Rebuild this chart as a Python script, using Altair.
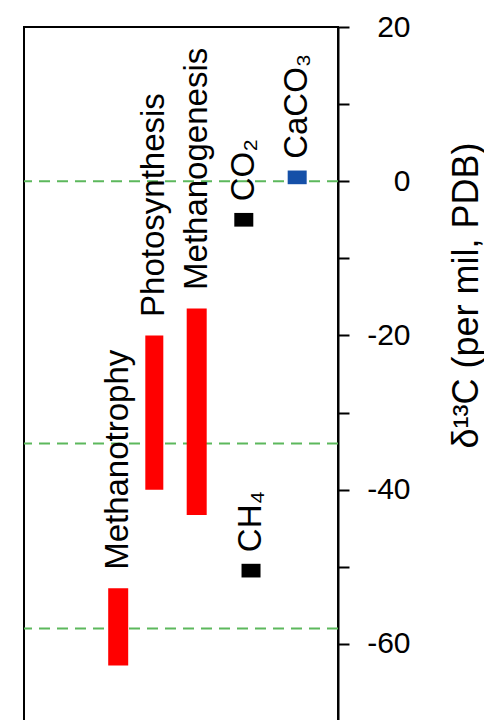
import altair as alt
import pandas as pd

# ---- data ----
names = ["Methanotrophy", "Photosynthesis", "Methanogenesis", "CO₂", "CH₄", "CaCO₃"]
kinds = ["range", "range", "range", "point", "point", "point"]
x_pos = [3.0, 4.15, 5.5, 7.0, 7.23, 8.7]
upper = [-52.8, -20.0, -16.5, -5.0, -50.5, 0.5]
lower = [-62.8, -40.0, -43.3, -5.0, -50.5, 0.5]
ref_lines = [0, -34, -58]
y_ticks = [20, 10, 0, -10, -20, -30, -40, -50, -60, -70]

df = pd.DataFrame({"name": names, "kind": kinds, "x": x_pos,
                   "upper": upper, "lower": lower})
lines_df = pd.DataFrame({"v": ref_lines})

FONT = "Liberation Sans"
yscale = alt.Scale(domain=[-70, 20], nice=False, zero=False)
xscale = alt.Scale(domain=[0, 10], nice=False, zero=False)

yaxis = alt.Axis(
    orient="right", values=y_ticks, grid=False,
    domainColor="black", domainWidth=2,
    tickColor="black", tickWidth=2, tickSize=11,
    labelExpr="datum.value % 20 == 0 ? '' + datum.value : ''",
    labelAlign="right", labelBaseline="middle", labelPadding=61,
    labelFontSize=30, labelFont=FONT, labelColor="black",
    labelOverlap=False, labelFlush=False,
    title="δ¹³C (per mil, PDB)", titleFont=FONT, titleFontSize=36,
    titleFontWeight="normal", titleColor="black", titleAngle=270,
    titleAlign="center", titleBaseline="alphabetic", titleX=139, titleY=268,
)
xenc = alt.X("x:Q", scale=xscale, axis=None)

lines = alt.Chart(lines_df).mark_rule(
    color="#5cb85c", strokeWidth=2, strokeDash=[11, 7]
).encode(y=alt.Y("v:Q", scale=yscale, axis=yaxis))

base = alt.Chart(df)

ranges = base.transform_filter(alt.datum.kind == "range").mark_rule(
    color="#ff0000", strokeCap="butt"
).encode(
    x=xenc,
    y=alt.Y("lower:Q", scale=yscale, axis=yaxis),
    y2="upper:Q",
    strokeWidth=alt.condition(alt.datum.name == "Photosynthesis",
                              alt.value(18), alt.value(20)),
)

points = base.transform_filter(alt.datum.kind == "point").mark_point(
    shape="M-1,-0.72L1,-0.72L1,0.72L-1,0.72Z", filled=True, size=361, opacity=1
).encode(
    x=xenc,
    y=alt.Y("upper:Q", scale=yscale, axis=yaxis),
    color=alt.condition(alt.datum.name == "CaCO₃",
                        alt.value("#1550a8"), alt.value("black")),
)

labels = base.transform_calculate(ty="datum.upper + 2.4").mark_text(
    angle=270, align="left", baseline="middle", fontSize=33, font=FONT,
    color="black"
).encode(
    x=xenc,
    y=alt.Y("ty:Q", scale=yscale, axis=yaxis),
    text="name:N",
)

chart = alt.layer(lines, ranges, points, labels).properties(
    width=314, height=694,
    padding={"left": 15, "top": 4, "right": 0, "bottom": 0},
    background="white",
).configure_view(stroke="black", strokeWidth=2)

chart.save("out.html", embed_options={"renderer": "svg", "actions": False})
